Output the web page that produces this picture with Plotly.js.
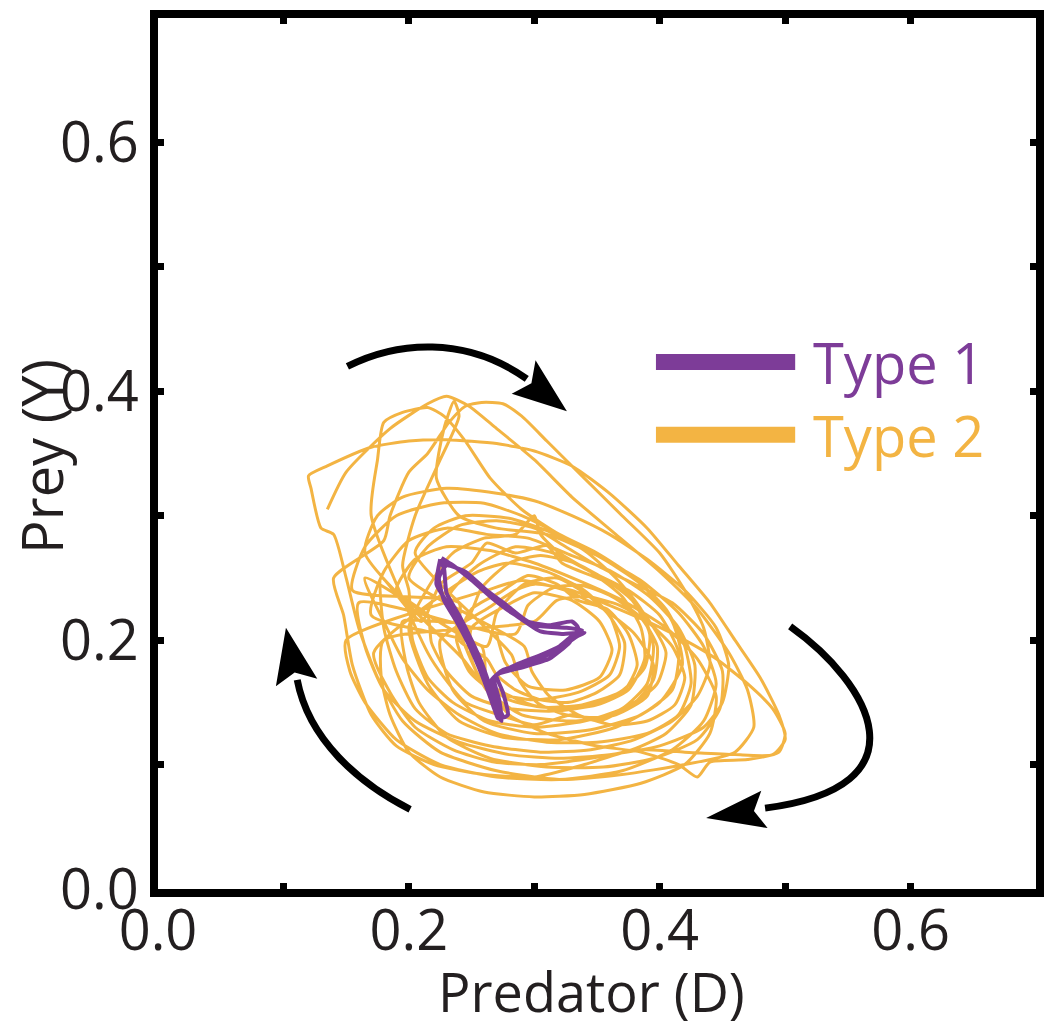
<!DOCTYPE html>
<html>
<head>
<meta charset="utf-8">
<script src="https://cdn.plot.ly/plotly-3.0.1.min.js"></script>
<style>html,body{margin:0;padding:0;background:#fff;}#chart{width:1050px;height:1032px;}</style>
</head>
<body>
<div id="chart"></div>
<script>
// ---- Data ----
const seriesNames = ["Type 1", "Type 2"];
const axisTitles = ["Predator (D)", "Prey (Y)"];
const tickVals = [0, 0.1, 0.2, 0.3, 0.4, 0.5, 0.6];
const tickText = ["0.0", "", "0.2", "", "0.4", "", "0.6"];

// Type 2 trajectory: predator (D) vs prey (Y), many tangled cycles
const type2X = [
  0.135,0.150,0.185,0.215,0.230,0.248,0.270,0.300,0.330,0.365,0.400,0.430,0.455,0.470,0.475,0.460,0.420,0.370,0.320,0.270,0.225,0.195,0.175,0.160,0.150,0.140,
  0.130,0.122,0.120,0.135,0.170,0.200,0.230,0.270,0.300,0.330,0.360,0.390,0.415,0.440,0.460,0.480,0.495,0.500,0.490,0.460,0.420,0.380,0.340,0.300,0.260,0.220,0.190,0.170,0.155,0.148,0.140,
  0.180,0.185,0.200,0.215,0.232,0.245,0.258,0.275,0.290,0.310,0.340,0.370,0.400,0.420,0.435,0.440,0.430,0.410,0.380,0.345,0.305,0.265,0.230,0.205,0.190,0.180,0.178,
  0.210,0.225,0.250,0.262,0.285,0.310,0.322,0.350,0.372,0.392,0.405,0.398,0.380,0.352,0.330,0.300,0.272,0.245,0.228,0.215,
  0.170,0.175,0.180,0.195,0.215,0.228,0.245,0.265,0.290,0.320,0.350,0.380,0.405,0.420,0.425,0.415,0.390,0.350,0.310,0.270,0.240,0.215,0.195,0.180,0.165,
  0.262,0.270,0.292,0.318,0.340,0.358,0.372,0.368,0.350,0.328,0.305,0.285,0.270,0.262,
  0.240,0.250,0.272,0.295,0.318,0.335,0.358,0.375,0.382,0.372,0.350,0.325,0.298,0.275,0.255,0.243,
  0.165,0.175,0.195,0.230,0.270,0.300,0.330,0.360,0.390,0.420,0.445,0.455,0.450,0.435,0.400,0.360,0.320,0.280,0.240,0.205,0.180,0.165,0.160,
  0.285,0.295,0.315,0.338,0.362,0.385,0.398,0.395,0.378,0.352,0.325,0.302,0.288,0.282,
  0.205,0.220,0.245,0.280,0.310,0.340,0.365,0.385,0.395,0.390,0.370,0.340,0.300,0.265,0.235,0.215,0.203,0.200,
  0.195,0.205,0.225,0.240,0.236,0.228,0.222,0.240,0.270,0.310,0.350,0.385,0.410,0.418,0.400,0.365,0.320,0.275,0.240,0.215,0.200,
  0.220,0.235,0.260,0.285,0.300,0.305,0.320,0.345,0.370,0.385,0.388,0.375,0.350,0.315,0.280,0.250,0.230,0.218,0.215,
  0.190,0.205,0.230,0.265,0.300,0.335,0.370,0.405,0.430,0.445,0.440,0.420,0.385,0.340,0.300,0.260,0.225,0.200,0.185,0.178,0.180,
  0.300,0.318,0.342,0.368,0.390,0.410,0.420,0.412,0.390,0.362,0.335,0.312,0.298,0.292,
  0.200,0.215,0.240,0.270,0.300,0.325,0.350,0.380,0.410,0.435,0.450,0.448,0.430,0.395,0.355,0.310,0.265,0.230,0.208,0.198,0.195,
  0.245,0.258,0.280,0.305,0.332,0.355,0.378,0.392,0.388,0.368,0.338,0.308,0.280,0.258,0.247,
  0.232,0.255,0.285,0.315,0.345,0.375,0.400,0.415,0.410,0.385,0.345,0.300,0.260,0.235,0.225,
  0.262,0.285,0.300,0.330,0.360,0.390,0.420,0.445,0.470,0.490,0.500,0.495,0.470,0.440,0.430,0.415,0.385,0.350,0.310,0.280,0.262,0.258,
  0.170,0.180,0.200,0.230,0.262,0.295,0.330,0.362,0.392,0.415,0.428,0.425,0.405,0.378,0.345,0.305,0.268,0.235,0.205,0.185,0.172,
  0.255,0.280,0.310,0.340,0.360,0.368,0.360,0.335,0.300,0.268,0.248,0.238,0.240,
  0.155,0.165,0.190,0.225,0.260,0.290,0.320,0.350,0.385,0.415,0.435,0.445,0.435,0.410,0.370,0.320,0.270,0.225,0.190,0.165,0.153,0.150,
  0.262,0.290,0.325,0.355,0.380,0.395,0.390,0.365,0.330,0.290,0.262,0.250,0.250,
  0.278,0.300,0.330,0.352,0.362,0.352,0.325,0.295,0.277,0.270
];
const type2Y = [
  0.305,0.335,0.370,0.390,0.396,0.388,0.370,0.345,0.315,0.285,0.255,0.225,0.190,0.160,0.130,0.110,0.100,0.092,0.088,0.095,0.110,0.135,0.170,0.210,0.250,0.285,
  0.290,0.322,0.332,0.340,0.355,0.360,0.361,0.358,0.352,0.340,0.318,0.290,0.260,0.230,0.200,0.170,0.140,0.120,0.108,0.108,0.110,0.112,0.100,0.090,0.092,0.100,0.115,0.140,0.180,0.220,0.250,
  0.280,0.300,0.335,0.350,0.375,0.388,0.391,0.390,0.380,0.360,0.330,0.300,0.270,0.240,0.210,0.180,0.155,0.135,0.120,0.112,0.110,0.115,0.125,0.145,0.175,0.210,0.250,
  0.215,0.245,0.262,0.278,0.270,0.276,0.262,0.250,0.240,0.215,0.190,0.165,0.150,0.135,0.140,0.132,0.140,0.150,0.170,0.190,
  0.300,0.345,0.375,0.383,0.387,0.380,0.360,0.330,0.305,0.285,0.270,0.250,0.225,0.195,0.165,0.140,0.125,0.118,0.118,0.125,0.140,0.160,0.185,0.215,0.250,
  0.195,0.222,0.245,0.250,0.238,0.222,0.198,0.172,0.158,0.150,0.152,0.160,0.172,0.185,
  0.200,0.225,0.238,0.252,0.245,0.232,0.225,0.205,0.180,0.160,0.150,0.145,0.148,0.158,0.170,0.185,
  0.270,0.300,0.315,0.322,0.318,0.312,0.300,0.285,0.265,0.240,0.210,0.180,0.150,0.130,0.115,0.108,0.105,0.108,0.118,0.135,0.160,0.195,0.230,
  0.205,0.228,0.242,0.244,0.235,0.218,0.195,0.168,0.148,0.138,0.140,0.150,0.168,0.188,
  0.270,0.290,0.300,0.298,0.288,0.272,0.250,0.225,0.195,0.165,0.145,0.135,0.130,0.135,0.150,0.170,0.200,0.240,
  0.260,0.300,0.345,0.380,0.392,0.370,0.330,0.300,0.290,0.285,0.268,0.245,0.215,0.180,0.150,0.130,0.120,0.122,0.135,0.165,0.210,
  0.250,0.270,0.282,0.285,0.300,0.285,0.270,0.255,0.235,0.210,0.185,0.160,0.148,0.143,0.145,0.155,0.175,0.198,0.220,
  0.240,0.265,0.275,0.272,0.262,0.248,0.232,0.210,0.185,0.155,0.125,0.100,0.085,0.076,0.074,0.078,0.090,0.110,0.140,0.170,0.200,
  0.215,0.232,0.235,0.228,0.215,0.195,0.170,0.148,0.135,0.132,0.140,0.155,0.175,0.195,
  0.250,0.275,0.292,0.296,0.290,0.275,0.260,0.245,0.230,0.205,0.175,0.145,0.120,0.105,0.098,0.098,0.105,0.122,0.150,0.180,0.215,
  0.215,0.242,0.262,0.268,0.262,0.250,0.232,0.205,0.178,0.158,0.148,0.146,0.152,0.168,0.190,
  0.235,0.260,0.275,0.270,0.255,0.240,0.220,0.190,0.160,0.140,0.128,0.125,0.135,0.160,0.200,
  0.225,0.240,0.245,0.240,0.228,0.215,0.200,0.185,0.165,0.145,0.125,0.110,0.104,0.102,0.090,0.100,0.110,0.115,0.125,0.140,0.165,0.195,
  0.220,0.255,0.280,0.290,0.285,0.282,0.268,0.255,0.235,0.210,0.180,0.148,0.125,0.112,0.105,0.100,0.102,0.112,0.130,0.158,0.190,
  0.255,0.262,0.255,0.240,0.220,0.195,0.172,0.158,0.152,0.158,0.175,0.200,0.230,
  0.240,0.275,0.300,0.310,0.310,0.300,0.285,0.268,0.248,0.222,0.195,0.165,0.135,0.112,0.095,0.088,0.090,0.100,0.120,0.150,0.175,0.200,
  0.240,0.248,0.240,0.225,0.205,0.180,0.155,0.140,0.135,0.140,0.160,0.185,0.210,
  0.228,0.238,0.232,0.215,0.192,0.170,0.160,0.163,0.182,0.205
];

// Type 1 trajectory: small triangular orbit near the centre
const type1X = [
  0.225,0.222,0.232,0.245,0.252,0.260,0.266,0.270,0.274,0.272,0.268,0.285,0.305,0.320,0.332,0.338,0.325,0.300,0.282,0.265,0.248,0.232,0.226,
  0.228,0.230,0.240,0.250,0.258,0.264,0.270,0.276,0.279,0.275,0.270,0.290,0.312,0.328,0.335,0.330,0.312,0.295,0.278,0.262,0.245,0.230,
  0.224,0.228,0.238,0.247,0.255,0.262,0.268,0.271,0.270,0.266,0.275,0.298,0.318,0.334,0.340,0.322,0.305,0.288,0.272,0.255,0.238,0.226
];
const type1Y = [
  0.265,0.245,0.228,0.208,0.190,0.172,0.155,0.140,0.135,0.152,0.170,0.180,0.188,0.195,0.205,0.208,0.210,0.212,0.222,0.235,0.250,0.262,0.262,
  0.258,0.238,0.220,0.200,0.182,0.165,0.150,0.138,0.140,0.158,0.172,0.178,0.185,0.198,0.210,0.215,0.212,0.215,0.228,0.240,0.255,0.260,
  0.250,0.232,0.215,0.198,0.180,0.162,0.145,0.137,0.155,0.168,0.176,0.182,0.192,0.203,0.206,0.205,0.207,0.218,0.230,0.245,0.258,0.266
];

// ---- Styling ----
const purple = "#7D3C98";
const orange = "#F3B443";
const ink = "#231f20";
const fontFam = "'Open Sans', 'Noto Sans', sans-serif";

const traces = [
  {x: type2X, y: type2Y, type: "scatter", mode: "lines", name: seriesNames[1],
   line: {color: orange, width: 3, shape: "spline", smoothing: 0.6}, showlegend: false, hoverinfo: "skip"},
  {x: type1X, y: type1Y, type: "scatter", mode: "lines", name: seriesNames[0],
   line: {color: purple, width: 4, shape: "spline", smoothing: 0.5}, showlegend: false, hoverinfo: "skip"}
];

// Decorative curved arrows (figure annotations)
function arrowHead(tip, b1, b2, col) {
  const mx = (b1[0] + b2[0]) / 2, my = (b1[1] + b2[1]) / 2;
  const nx = mx + (tip[0] - mx) * 0.18, ny = my + (tip[1] - my) * 0.18;
  return {type: "path", xref: "x", yref: "y", fillcolor: col, line: {width: 0, color: col},
    path: `M${tip[0]},${tip[1]} L${b1[0]},${b1[1]} L${nx},${ny} L${b2[0]},${b2[1]} Z`};
}
function arrowBody(p) {
  return {type: "path", xref: "x", yref: "y", line: {color: "#000", width: 7},
    path: `M${p[0]},${p[1]} C${p[2]},${p[3]} ${p[4]},${p[5]} ${p[6]},${p[7]}`};
}
const shapes = [
  arrowBody([0.151,0.420, 0.190,0.440, 0.245,0.445, 0.294,0.410]),
  arrowHead([0.326,0.384], [0.282,0.398], [0.301,0.425], "#000"),
  arrowBody([0.504,0.211, 0.568,0.165, 0.615,0.082, 0.484,0.065]),
  arrowHead([0.437,0.057], [0.481,0.079], [0.486,0.049], "#000"),
  arrowBody([0.201,0.064, 0.160,0.085, 0.120,0.120, 0.111,0.168]),
  arrowHead([0.102,0.210], [0.094,0.163], [0.127,0.169], "#000"),
  // legend swatches
  {type: "line", xref: "x", yref: "y", x0: 0.397, x1: 0.508, y0: 0.4235, y1: 0.4235, line: {color: purple, width: 16}},
  {type: "line", xref: "x", yref: "y", x0: 0.397, x1: 0.508, y0: 0.365, y1: 0.365, line: {color: orange, width: 16}}
];

const annotations = [
  {x: 0.521, y: 0.4235, xref: "x", yref: "y", text: seriesNames[0], showarrow: false, xanchor: "left", yanchor: "middle",
   font: {family: fontFam, size: 56, color: purple}},
  {x: 0.521, y: 0.365, xref: "x", yref: "y", text: seriesNames[1], showarrow: false, xanchor: "left", yanchor: "middle",
   font: {family: fontFam, size: 56, color: orange}},
  // axis titles
  {x: 0.494, y: -0.117, xref: "paper", yref: "paper", text: axisTitles[0], showarrow: false,
   xanchor: "center", yanchor: "middle", font: {family: fontFam, size: 54, color: ink}},
  {x: -0.1335, y: 0.497, xref: "paper", yref: "paper", text: axisTitles[1], showarrow: false, textangle: -90,
   xanchor: "center", yanchor: "middle", borderpad: 0, font: {family: fontFam, size: 56, color: ink}}
];

const axisCommon = {
  range: [0, 0.7], tickmode: "array", tickvals: tickVals, ticktext: tickText,
  showline: true, mirror: "ticks", linewidth: 8, linecolor: "#000",
  ticks: "inside", ticklen: 6, tickwidth: 7, tickcolor: "#000",
  showgrid: false, zeroline: false, fixedrange: true,
  tickfont: {family: fontFam, size: 56, color: ink}
};

const layout = {
  width: 1050, height: 1032,
  margin: {l: 158, r: 14, t: 18, b: 143},
  paper_bgcolor: "#fff", plot_bgcolor: "#fff",
  font: {family: fontFam, color: ink},
  xaxis: Object.assign({}, axisCommon, {ticklabelstandoff: -14}),
  yaxis: Object.assign({}, axisCommon),
  shapes: shapes,
  annotations: annotations,
  showlegend: false
};

Plotly.newPlot("chart", traces, layout, {displayModeBar: false, staticPlot: true});
</script>
</body>
</html>
